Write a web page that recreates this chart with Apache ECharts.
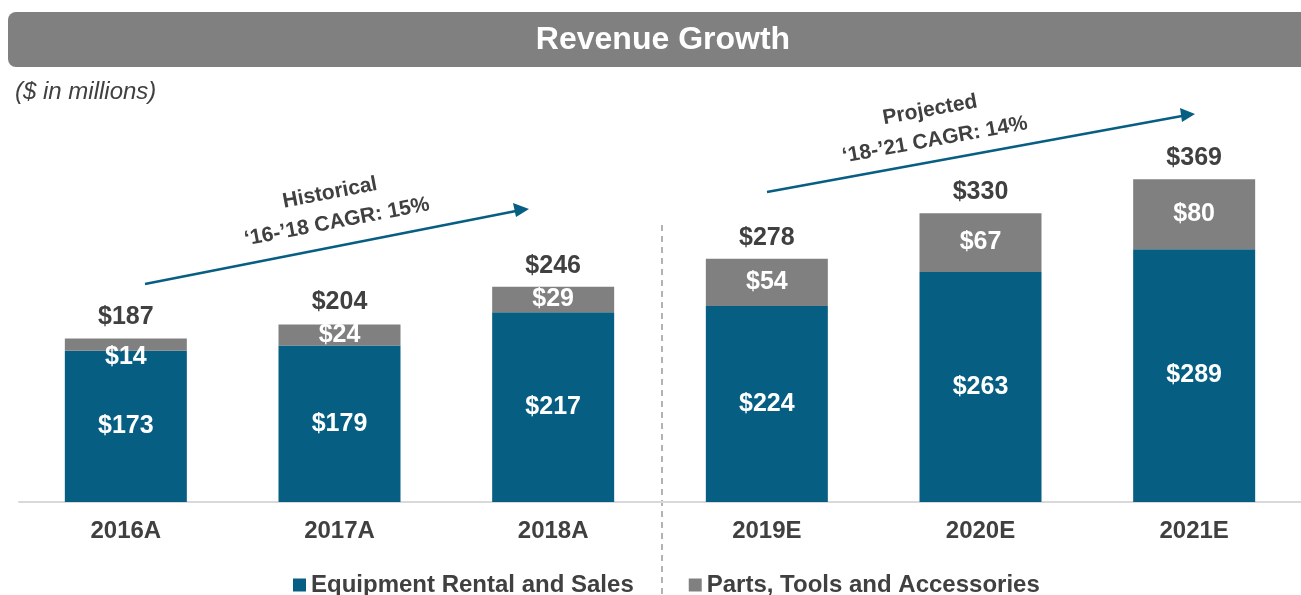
<!DOCTYPE html>
<html>
<head>
<meta charset="utf-8">
<script src="https://cdn.jsdelivr.net/npm/echarts@6/dist/echarts.min.js"></script>
<style>
html,body{margin:0;padding:0;background:#fff;}
#chart{width:1301px;height:595px;}
</style>
</head>
<body>
<div id="chart"></div>
<script>
const categories = ['2016A', '2017A', '2018A', '2019E', '2020E', '2021E'];
const equipment = [173, 179, 217, 224, 263, 289];
const parts = [14, 24, 29, 54, 67, 80];
const totals = [187, 204, 246, 278, 330, 369];
const seriesNames = ['Equipment Rental and Sales', 'Parts, Tools and Accessories'];

const BLUE = '#065e82';
const GRAY = '#808080';
const DARK = '#404040';
const FONT = 'Liberation Sans, Arial, sans-serif';

const chart = echarts.init(document.getElementById('chart'));

const partsData = parts.map((v, i) => i === 0
  ? { value: v, label: { offset: [0, 13] } }
  : v);

const option = {
  animation: false,
  textStyle: { fontFamily: FONT },
  grid: { left: 19, top: 152, width: 1286, height: 350, containLabel: false },
  xAxis: {
    type: 'category',
    data: categories,
    axisLine: { show: true, lineStyle: { color: '#d9d9d9', width: 2 } },
    axisTick: { show: false },
    axisLabel: { color: DARK, fontSize: 24, fontWeight: 'bold', margin: 17, fontFamily: FONT }
  },
  yAxis: { type: 'value', min: 0, max: 400, show: false, splitLine: { show: false } },
  legend: {
    left: 288, top: 568,
    itemWidth: 13, itemHeight: 13, itemGap: 55,
    icon: 'rect',
    data: seriesNames,
    textStyle: { color: DARK, fontSize: 24, fontWeight: 'bold', fontFamily: FONT }
  },
  series: [
    {
      name: seriesNames[0], type: 'bar', stack: 'total', barWidth: 122,
      itemStyle: { color: BLUE },
      label: { show: true, position: 'inside', color: '#fff', fontSize: 25, fontWeight: 'bold', fontFamily: FONT, formatter: p => '$' + p.value },
      data: equipment
    },
    {
      name: seriesNames[1], type: 'bar', stack: 'total', barWidth: 122,
      itemStyle: { color: GRAY },
      label: { show: true, position: 'inside', color: '#fff', fontSize: 25, fontWeight: 'bold', fontFamily: FONT, formatter: p => '$' + p.value },
      data: partsData
    },
    {
      name: 'Total', type: 'scatter', data: totals,
      symbol: 'circle', symbolSize: 1, itemStyle: { color: 'rgba(0,0,0,0)', opacity: 1 }, silent: true,
      label: { show: true, position: 'top', distance: 8, color: DARK, opacity: 1, fontSize: 25, fontWeight: 'bold', fontFamily: FONT, formatter: p => '$' + p.value }
    }
  ],
  graphic: [
    { type: 'rect', shape: { x: 8, y: 12, width: 1310, height: 55, r: 8 }, style: { fill: GRAY } },
    { type: 'text', x: 663, y: 40, style: { text: 'Revenue Growth', fill: '#fff', font: 'bold 32px ' + FONT, textAlign: 'center', textVerticalAlign: 'middle' } },
    { type: 'text', x: 15, y: 92, style: { text: '($ in millions)', fill: DARK, font: 'italic 24px ' + FONT, textAlign: 'left', textVerticalAlign: 'middle' } },
    { type: 'line', shape: { x1: 662, y1: 225, x2: 662, y2: 595 }, style: { stroke: GRAY, lineWidth: 1.2, lineDash: [6, 5] } },
    // historical arrow
    { type: 'line', shape: { x1: 145, y1: 284, x2: 516, y2: 211 }, style: { stroke: BLUE, lineWidth: 2.5 } },
    { type: 'polygon', shape: { points: [[529, 209], [513, 203], [516, 217]] }, style: { fill: BLUE } },
    // projected arrow
    { type: 'line', shape: { x1: 767, y1: 192, x2: 1182, y2: 116 }, style: { stroke: BLUE, lineWidth: 2.5 } },
    { type: 'polygon', shape: { points: [[1195, 114], [1180, 108], [1182, 122]] }, style: { fill: BLUE } },
    { type: 'text', x: 330, y: 193, rotation: 0.19, style: { text: 'Historical', fill: DARK, font: 'bold 21px ' + FONT, textAlign: 'center', textVerticalAlign: 'middle' } },
    { type: 'text', x: 337, y: 222, rotation: 0.19, style: { text: '\u201816-\u201918 CAGR: 15%', fill: DARK, font: 'bold 21px ' + FONT, textAlign: 'center', textVerticalAlign: 'middle' } },
    { type: 'text', x: 930, y: 110, rotation: 0.18, style: { text: 'Projected', fill: DARK, font: 'bold 21px ' + FONT, textAlign: 'center', textVerticalAlign: 'middle' } },
    { type: 'text', x: 935, y: 140, rotation: 0.18, style: { text: '\u201818-\u201921 CAGR: 14%', fill: DARK, font: 'bold 21px ' + FONT, textAlign: 'center', textVerticalAlign: 'middle' } }
  ]
};
chart.setOption(option);
</script>
</body>
</html>
